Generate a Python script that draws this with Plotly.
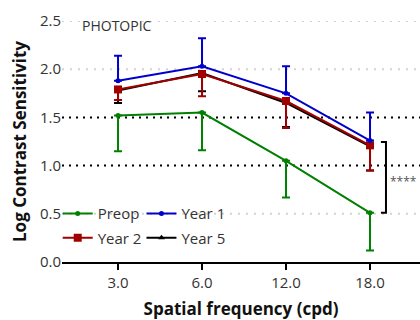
import plotly.graph_objects as go

categories = ["3.0", "6.0", "12.0", "18.0"]
xpos = [0, 1, 2, 3]

preop = [1.52, 1.55, 1.05, 0.51]
preop_err_minus = [0.37, 0.39, 0.38, 0.39]

year1 = [1.88, 2.03, 1.75, 1.26]
year1_err_plus = [0.26, 0.29, 0.28, 0.29]

year2 = [1.79, 1.95, 1.67, 1.21]
year2_err_minus = [0.11, 0.23, 0.28, 0.26]

year5 = [1.78, 1.96, 1.65, 1.20]
year5_err_minus = [0.13, 0.19, 0.25, 0.25]

yticks = [0, 0.5, 1.0, 1.5, 2.0, 2.5]
ytick_labels = ["0.0", "0.5", "1.0", "1.5", "2.0", "2.5"]
ref_lines = [1.0, 1.5]

FONT = "Open Sans"
fig = go.Figure()

def add(name, y, color, symbol, size, plus=None, minus=None, legend="legend"):
    err = dict(type="data", symmetric=False, color=color, thickness=2, width=4,
               array=plus if plus else [0]*4, arrayminus=minus if minus else [0]*4)
    fig.add_trace(go.Scatter(x=xpos, y=y, name=name, mode="lines+markers",
                             line=dict(color=color, width=2),
                             marker=dict(color=color, symbol=symbol, size=size),
                             error_y=err, legend=legend))

add("Year 5", year5, "#000000", "triangle-up", 6, minus=year5_err_minus, legend="legend4")
add("Year 2", year2, "#A00000", "square", 8, minus=year2_err_minus, legend="legend3")
add("Preop", preop, "#008000", "circle", 5, minus=preop_err_minus, legend="legend")
add("Year 1", year1, "#0000CC", "circle", 5, plus=year1_err_plus, legend="legend2")

# light dotted gridlines
for yv in yticks[1:]:
    if yv in ref_lines:
        continue
    fig.add_shape(type="line", xref="paper", x0=0, x1=1, yref="y", y0=yv, y1=yv,
                  line=dict(color="#d4d4d4", width=2, dash="2px,6px"), layer="between")
# reference dotted lines
for yv in ref_lines:
    fig.add_shape(type="line", xref="paper", x0=0, x1=1, yref="y", y0=yv, y1=yv,
                  line=dict(color="black", width=2, dash="2px,5px"), layer="between")

# significance bracket
bx = 3.19
fig.add_shape(type="path", xref="x", yref="y",
              path=f"M {bx-0.06},1.245 L {bx},1.245 L {bx},0.51 L {bx-0.06},0.51",
              line=dict(color="black", width=2))
fig.add_annotation(x=3.40, y=0.83, xref="x", yref="y", text="****", showarrow=False,
                   font=dict(family=FONT, size=12, color="#555555"))
fig.add_annotation(x=0.05, y=2.45, xref="paper", yref="y", text="PHOTOPIC", showarrow=False,
                   xanchor="left", font=dict(family=FONT, size=14, color="#333333"))

legend_common = dict(orientation="v", bgcolor="rgba(0,0,0,0)", font=dict(family=FONT, size=15, color="#333333"),
                     itemwidth=30, xanchor="left", yanchor="middle")

col1, col2 = -0.012, 0.222
row1, row2 = 0.2, 0.1

fig.update_layout(
    width=420, height=320,
    margin=dict(l=62, r=0, t=21, b=58, autoexpand=False),
    plot_bgcolor="white", paper_bgcolor="white",
    font=dict(family=FONT, size=15, color="#333333"),
    showlegend=True,
    legend=dict(x=col1, y=row1, **legend_common),
    legend2=dict(x=col2, y=row1, **legend_common),
    legend3=dict(x=col1, y=row2, **legend_common),
    legend4=dict(x=col2, y=row2, **legend_common),
    xaxis=dict(range=[-0.667, 3.595], tickvals=xpos, ticktext=categories,
               showline=True, linecolor="black", linewidth=2, ticks="outside",
               tickcolor="black", tickwidth=2, ticklen=6, showgrid=False, zeroline=False,
               automargin=True,
               tickfont=dict(family=FONT, size=15, color="#333333"),
               title=dict(text="<b>Spatial frequency (cpd)</b>", font=dict(family=FONT, size=17, color="#111111"),
                          standoff=22)),
    yaxis=dict(range=[0, 2.5], tickvals=yticks, ticktext=ytick_labels,
               showline=False, showgrid=False, automargin=False,
               zeroline=False, ticks="", tickfont=dict(family=FONT, size=15, color="#333333"),
               title=dict(text="<b>Log Contrast Sensitivity</b>", font=dict(family=FONT, size=17, color="#111111"),
                          standoff=8)),
)

fig.write_html("out.html")
